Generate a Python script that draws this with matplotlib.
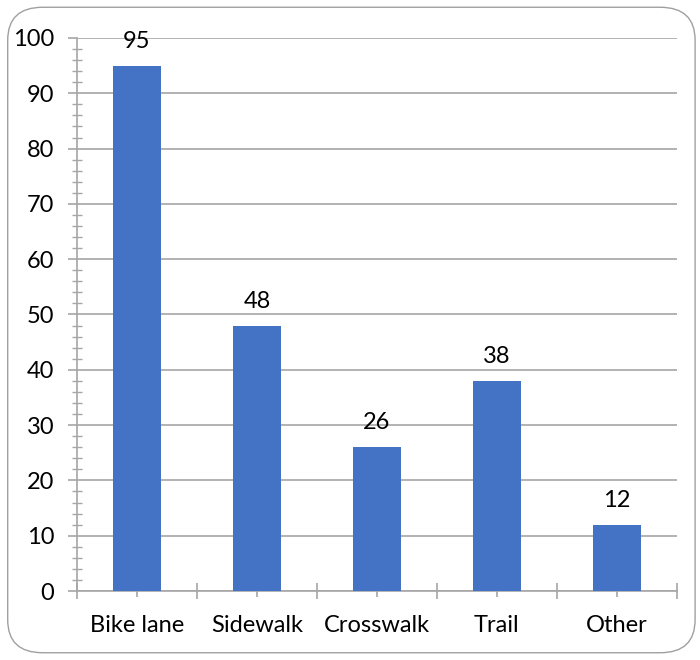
import numpy as np
import matplotlib.pyplot as plt
from matplotlib.patches import FancyBboxPatch
from matplotlib.ticker import MultipleLocator, FixedLocator

# Datos
categorias = ["Bike lane", "Sidewalk", "Crosswalk", "Trail", "Other"]
valores = [95, 48, 26, 38, 12]

plt.rcParams['font.family'] = ['Lato', 'DejaVu Sans']

color_barra = '#4472C4'
color_grid = '#a6a6a6'

fig = plt.figure(figsize=(7, 6.6), dpi=100)
ax = fig.add_axes([0.11, 0.1045, 0.857, 0.838])

x = np.arange(len(categorias))
barras = ax.bar(x, valores, width=0.4, color=color_barra, zorder=3)

# Etiquetas de valor encima de cada barra
for xi, v in zip(x, valores):
    ax.annotate(str(v), (xi, v), xytext=(0, 10), textcoords='offset points',
                ha='center', va='bottom', fontsize=17, color='black')

ax.set_xlim(-0.5, len(categorias) - 0.5)
ax.set_ylim(0, 100)

# Eje Y: mayores cada 10, menores cada 2
ax.yaxis.set_major_locator(MultipleLocator(10))
ax.yaxis.set_minor_locator(MultipleLocator(2))
ax.tick_params(axis='y', which='major', direction='out', length=6.5, width=1.2,
               color=color_grid, labelsize=17, pad=10)
ax.tick_params(axis='y', which='minor', direction='inout', length=7.5, width=1.0,
               color=color_grid)

# Eje X: marcas en los límites de categoría y en los centros
ax.xaxis.set_major_locator(FixedLocator(x))
ax.set_xticklabels(categorias)
ax.xaxis.set_minor_locator(FixedLocator(np.arange(-0.5, len(categorias), 1.0)))
ax.tick_params(axis='x', which='major', direction='inout', length=8, width=1.2,
               color=color_grid, labelsize=17, pad=13)
ax.tick_params(axis='x', which='minor', direction='inout', length=11, width=1.2,
               color=color_grid)

ax.grid(True, axis='y', which='major', color=color_grid, linewidth=1.2, zorder=0)
ax.set_axisbelow(True)

for lado in ['top', 'right']:
    ax.spines[lado].set_visible(False)
ax.spines['left'].set_color(color_grid)
ax.spines['bottom'].set_color(color_grid)
ax.spines['left'].set_linewidth(1.2)
ax.spines['bottom'].set_linewidth(1.2)

# Marco redondeado del gráfico
marco = FancyBboxPatch((0.011, 0.011), 0.982, 0.978,
                       boxstyle="round,pad=0,rounding_size=0.05",
                       transform=fig.transFigure, facecolor='none',
                       edgecolor='#a0a0a0', linewidth=1.0)
fig.patches.append(marco)

fig.savefig('out.png', dpi=100)
